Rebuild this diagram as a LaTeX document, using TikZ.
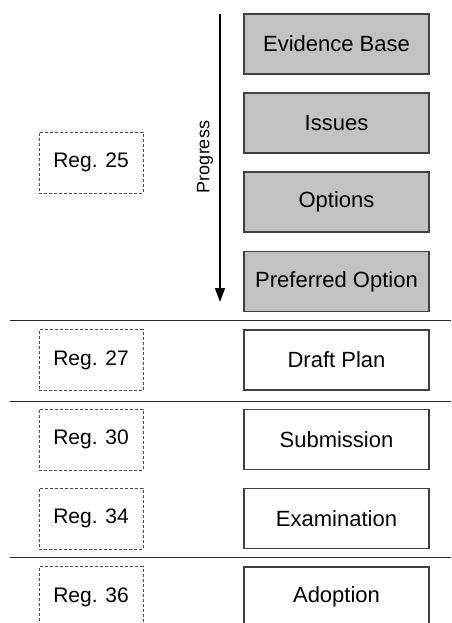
\documentclass[tikz,border=0pt]{standalone}
\usepackage{fontspec}
\setmainfont{Liberation Sans}
\usetikzlibrary{arrows.meta}
\begin{document}
\begin{tikzpicture}[x=1pt,y=-1pt,
  stage/.style={draw=black!75,line width=1.1pt,minimum width=185pt,minimum height=60pt,inner sep=0pt,font=\fontsize{22}{25}\selectfont},
  graystage/.style={stage,fill=black!24},
  whitestage/.style={stage,fill=white},
  reg/.style={draw=black!70,dashed,dash pattern=on 3pt off 2pt,line width=0.8pt,minimum width=104pt,minimum height=61pt,inner sep=0pt,font=\fontsize{21}{24}\selectfont},
  sep/.style={line width=1pt,draw=black!85}]
\useasboundingbox (0,0) rectangle (451,623);
\begin{scope}
\clip (0,0) rectangle (451,623);
\node[graystage] (eb) at (336.5,44) {Evidence Base};
\node[graystage] (is) at (336.5,123) {Issues};
\node[graystage] (op) at (336.5,202) {Options};
\node[graystage] (po) at (336.5,281.5) {Preferred Option};
\node[whitestage] (dp) at (336.5,360) {Draft Plan};
\node[whitestage] (sub) at (336.5,439.5) {Submission};
\node[whitestage] (ex) at (336.5,518.5) {Examination};
\node[whitestage] (ad) at (336.5,597) {Adoption};
\node[reg] (r25) at (91,162.5) {Reg. 25};
\node[reg] (r27) at (91,360) {Reg. 27};
\node[reg] (r30) at (91,439.5) {Reg. 30};
\node[reg] (r34) at (91,518.5) {Reg. 34};
\node[reg] (r36) at (91,597) {Reg. 36};
\coordinate (atop) at (220,14);
\coordinate (abot) at (220,302);
\draw[line width=1.3pt,-{Triangle[length=14pt,width=10pt]}] (atop) -- (abot);
\node[rotate=90,font=\fontsize{18}{20}\selectfont] (prog) at (205,157) {Progress};
\coordinate (l1a) at (10,320); \coordinate (l1b) at (451,320);
\coordinate (l2a) at (10,401); \coordinate (l2b) at (451,401);
\coordinate (l3a) at (10,557); \coordinate (l3b) at (451,557);
\draw[sep] (l1a) -- (l1b);
\draw[sep] (l2a) -- (l2b);
\draw[sep] (l3a) -- (l3b);
\end{scope}
\end{tikzpicture}
\end{document}
